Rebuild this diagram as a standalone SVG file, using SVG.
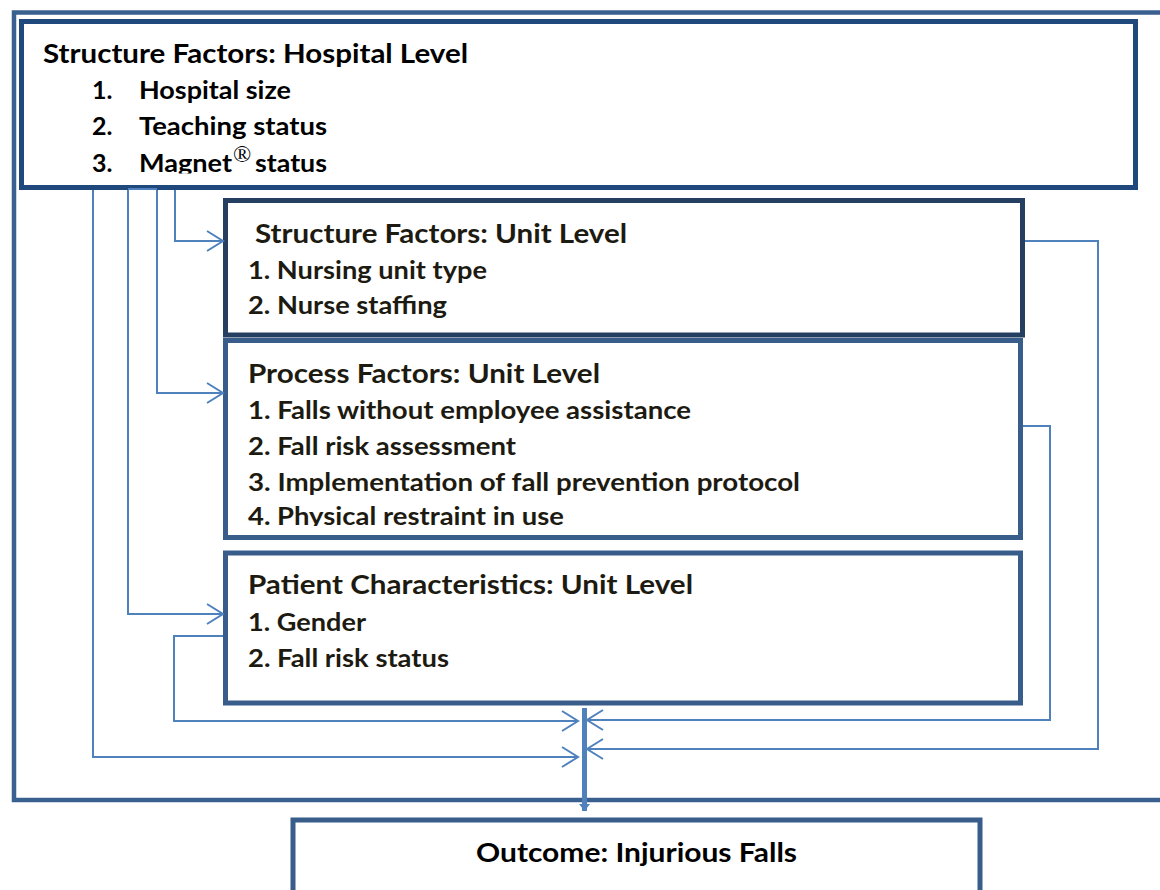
<svg xmlns="http://www.w3.org/2000/svg" width="1160" height="890" viewBox="0 0 1160 890">
<style>
  .t { font-family: Lato, "Open Sans", "Liberation Sans", sans-serif; font-weight: bold; }
  .ti { font-size: 26px; }
  .it { font-size: 25px; }
  .k { fill: #000; }
  .d { fill: #1d1b11; }
  .conn { fill: none; stroke: #4f81bd; stroke-width: 2; }
</style>
<defs>
  <marker id="open" markerUnits="userSpaceOnUse" markerWidth="24" markerHeight="24" viewBox="-18 -12 20 24" refX="0" refY="0" orient="auto">
    <path d="M-16,-10 L0,0 L-16,10" fill="none" stroke="#4f81bd" stroke-width="2"/>
  </marker>
  <marker id="solid" markerUnits="userSpaceOnUse" markerWidth="14" markerHeight="14" viewBox="-8 -7 10 14" refX="0" refY="0" orient="auto">
    <path d="M-7,-5.5 L0,0 L-7,5.5 Z" fill="#4f81bd"/>
  </marker>
  <clipPath id="clipHosp"><rect x="24" y="24" width="1109" height="149.5"/></clipPath>
  <clipPath id="clipProc"><rect x="228" y="343" width="790" height="183"/></clipPath>
</defs>
<rect width="1160" height="890" fill="#fff"/>

<g id="frame">
  <path d="M1170,12.5 H14 V800 H1170" fill="none" stroke="#3a6090" stroke-width="4.5"/>
</g>

<g id="hospital">
  <rect x="21.5" y="21.5" width="1114" height="166" fill="#fff" stroke="#1f497d" stroke-width="5"/>
  <g clip-path="url(#clipHosp)">
    <text class="t ti k" x="43" y="63" textLength="425" lengthAdjust="spacingAndGlyphs">Structure Factors: Hospital Level</text>
    <text class="t it k" x="92" y="99">1.</text>
    <text class="t it k" x="139" y="99" textLength="152" lengthAdjust="spacingAndGlyphs">Hospital size</text>
    <text class="t it k" x="92" y="135">2.</text>
    <text class="t it k" x="139" y="135" textLength="188" lengthAdjust="spacingAndGlyphs">Teaching status</text>
    <text class="t it k" x="92" y="172">3.</text>
    <text class="t it k" x="139" y="172" textLength="93" lengthAdjust="spacingAndGlyphs">Magnet</text>
    <text class="t it k" x="255" y="172" textLength="72" lengthAdjust="spacingAndGlyphs">status</text>
  </g>
  <text x="233" y="162" font-family="'Liberation Serif', serif" font-size="24" fill="#000">®</text>
</g>

<g id="structure-unit">
  <rect x="225.5" y="200.5" width="797" height="134.5" fill="#fff" stroke="#243f60" stroke-width="5"/>
  <text class="t ti d" x="255" y="243" textLength="372" lengthAdjust="spacingAndGlyphs">Structure Factors: Unit Level</text>
  <text class="t it d" x="248" y="279" textLength="239" lengthAdjust="spacingAndGlyphs">1. Nursing unit type</text>
  <text class="t it d" x="248" y="314" textLength="199" lengthAdjust="spacingAndGlyphs">2. Nurse staffing</text>
</g>

<g id="process-unit">
  <rect x="225.5" y="340.5" width="795" height="197" fill="#fff" stroke="#385d8a" stroke-width="5"/>
  <g clip-path="url(#clipProc)">
    <text class="t ti d" x="248" y="383" textLength="352" lengthAdjust="spacingAndGlyphs">Process Factors: Unit Level</text>
    <text class="t it d" x="248" y="419" textLength="443" lengthAdjust="spacingAndGlyphs">1. Falls without employee assistance</text>
    <text class="t it d" x="248" y="455" textLength="268" lengthAdjust="spacingAndGlyphs">2. Fall risk assessment</text>
    <text class="t it d" x="248" y="491" textLength="552" lengthAdjust="spacingAndGlyphs">3. Implementation of fall prevention protocol</text>
    <text class="t it d" x="248" y="525" textLength="316" lengthAdjust="spacingAndGlyphs">4. Physical restraint in use</text>
  </g>
</g>

<g id="patient-unit">
  <rect x="225.5" y="553" width="795" height="150" fill="#fff" stroke="#385d8a" stroke-width="5"/>
  <text class="t ti d" x="248" y="594" textLength="445" lengthAdjust="spacingAndGlyphs">Patient Characteristics: Unit Level</text>
  <text class="t it d" x="248" y="631" textLength="118" lengthAdjust="spacingAndGlyphs">1. Gender</text>
  <text class="t it d" x="248" y="667" textLength="201" lengthAdjust="spacingAndGlyphs">2. Fall risk status</text>
</g>

<g id="outcome">
  <rect x="293" y="820" width="687" height="100" fill="#fff" stroke="#385d8a" stroke-width="5"/>
  <text class="t ti k" x="476" y="862" textLength="321" lengthAdjust="spacingAndGlyphs">Outcome: Injurious Falls</text>
</g>

<g id="connectors">
  <path class="conn" d="M128,189 H157"/>
  <path class="conn" d="M175,190 V241 H223" marker-end="url(#open)"/>
  <path class="conn" d="M157,190 V393 H223" marker-end="url(#open)"/>
  <path class="conn" d="M128,190 V614 H223" marker-end="url(#open)"/>
  <path class="conn" d="M93,190 V757 H578" marker-end="url(#open)"/>
  <path class="conn" d="M223,636 H174 V721 H578" marker-end="url(#open)"/>
  <path class="conn" d="M1023,426 H1050 V720 H587" marker-end="url(#open)"/>
  <path class="conn" d="M1025,241 H1098 V749 H587" marker-end="url(#open)"/>
  <path d="M584.5,708 V811" fill="none" stroke="#4f81bd" stroke-width="5" marker-end="url(#solid)"/>
</g>
</svg>
